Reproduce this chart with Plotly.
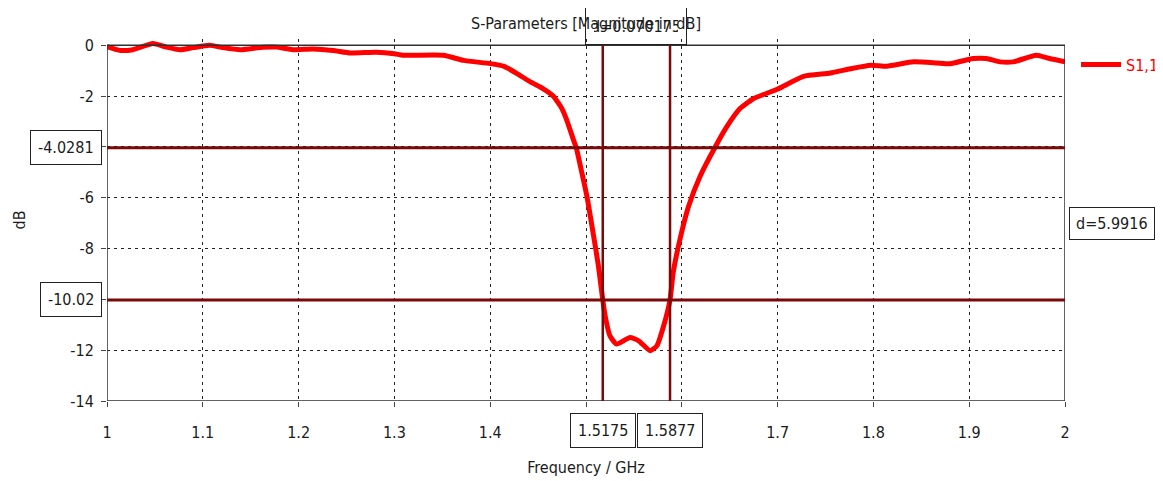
import plotly.graph_objects as go

# ---- data ----
freq_ghz = [1.000, 1.014, 1.027, 1.048, 1.062, 1.076, 1.090, 1.107, 1.121, 1.139,
            1.163, 1.177, 1.194, 1.215, 1.236, 1.254, 1.281, 1.300, 1.309, 1.351,
            1.372, 1.400, 1.414, 1.428, 1.442, 1.455, 1.466, 1.475, 1.480, 1.487,
            1.490, 1.495, 1.501, 1.508, 1.513, 1.5175, 1.520, 1.525, 1.532, 1.546,
            1.555, 1.567, 1.574, 1.581, 1.5877, 1.591, 1.598, 1.607, 1.619, 1.635,
            1.647, 1.661, 1.675, 1.699, 1.727, 1.755, 1.776, 1.797, 1.814, 1.842,
            1.866, 1.880, 1.904, 1.918, 1.932, 1.946, 1.970, 1.984, 2.000]
s11_db = [-0.05, -0.20, -0.17, 0.07, -0.07, -0.17, -0.09, 0.00, -0.09, -0.17,
          -0.07, -0.07, -0.17, -0.14, -0.20, -0.30, -0.27, -0.33, -0.39, -0.39,
          -0.59, -0.72, -0.82, -1.11, -1.44, -1.70, -2.00, -2.50, -2.95, -3.73,
          -4.05, -4.90, -5.95, -7.52, -8.69, -10.02, -10.65, -11.44, -11.76, -11.50,
          -11.63, -12.02, -11.83, -11.05, -10.02, -8.95, -7.65, -6.34, -5.16, -3.99,
          -3.20, -2.48, -2.09, -1.74, -1.22, -1.09, -0.92, -0.78, -0.82, -0.65,
          -0.69, -0.72, -0.52, -0.52, -0.65, -0.65, -0.39, -0.52, -0.65]

x_tickvals = [1, 1.1, 1.2, 1.3, 1.4, 1.5, 1.6, 1.7, 1.8, 1.9, 2]
x_ticktext = ["1", "1.1", "1.2", "1.3", "1.4", "", "", "1.7", "1.8", "1.9", "2"]
y_tickvals = [0, -2, -4, -6, -8, -10, -12, -14]
y_ticktext = ["0", "-2", "", "-6", "-8", "", "-12", "-14"]

marker_x = [1.5175, 1.5877]
marker_y = [-4.0281, -10.02]
delta_x_label = "d=0.070175"
delta_y_label = "d=5.9916"

FONT = "DejaVu Sans Condensed, Liberation Sans Narrow, Liberation Sans, sans-serif"
MARK = "#7a0a0a"
TXT = "#1b1b1b"

W, H = 1155, 473  # page body adds an 8px margin

fig = go.Figure()
fig.add_trace(go.Scatter(
    x=freq_ghz, y=s11_db, mode="lines", name="S1,1",
    line=dict(color="#ff0000", width=5, shape="spline", smoothing=0.5),
))

shapes = []
# frame
shapes.append(dict(type="rect", xref="x", yref="y", x0=1, x1=2, y0=-14, y1=0,
                   line=dict(color="#303030", width=1.5), layer="above"))
for mx in marker_x:
    shapes.append(dict(type="line", xref="x", yref="y", x0=mx, x1=mx, y0=-14, y1=0,
                       line=dict(color=MARK, width=2.5), layer="above"))
for my in marker_y:
    shapes.append(dict(type="line", xref="x", yref="y", x0=1, x1=2, y0=my, y1=my,
                       line=dict(color=MARK, width=3), layer="above"))

annots = []
for my in marker_y:
    annots.append(dict(x=0, xref="paper", y=my, yref="y", xanchor="right", yanchor="middle",
                       xshift=-5, text=f"{my:g}", showarrow=False,
                       font=dict(family=FONT, size=16, color=TXT),
                       bordercolor="#222", borderwidth=1, borderpad=7, bgcolor="white"))
for mx in marker_x:
    annots.append(dict(x=mx, xref="x", y=0, yref="paper", xanchor="center", yanchor="top",
                       yshift=-12, text=f"{mx:g}", showarrow=False,
                       font=dict(family=FONT, size=16, color=TXT),
                       bordercolor="#222", borderwidth=1, borderpad=7, bgcolor="white"))
annots.append(dict(x=1, xref="paper", y=sum(marker_y) / 2, yref="y", xanchor="left",
                   yanchor="middle", xshift=4, text=delta_y_label, showarrow=False,
                   font=dict(family=FONT, size=16, color=TXT),
                   bordercolor="#222", borderwidth=1, borderpad=6, bgcolor="white"))
annots.append(dict(x=sum(marker_x) / 2, xref="x", y=0, yref="y", xanchor="center",
                   yanchor="bottom", text=delta_x_label, showarrow=False,
                   width=84, height=20, valign="middle",
                   font=dict(family=FONT, size=16, color=TXT),
                   bordercolor="#222", borderwidth=1, borderpad=8, bgcolor="rgba(0,0,0,0)"))

fig.update_layout(
    width=W, height=H,
    margin=dict(l=99, r=98, t=31, b=80, autoexpand=False),
    paper_bgcolor="white", plot_bgcolor="white",
    font=dict(family=FONT, size=16, color=TXT),
    title=dict(text="S-Parameters [Magnitude in dB]", x=0.5, xref="paper", xanchor="center",
               y=1 - 15 / H, yref="container", yanchor="middle",
               font=dict(family=FONT, size=16, color=TXT)),
    showlegend=True,
    legend=dict(x=1.0115, xanchor="left", y=0.929, yanchor="middle",
                font=dict(family=FONT, size=16, color="#ff0000"),
                bgcolor="rgba(0,0,0,0)", itemwidth=40),
    shapes=shapes, annotations=annots,
    xaxis=dict(range=[1, 2], tickvals=x_tickvals, ticktext=x_ticktext,
               showgrid=True, gridcolor="#222", griddash="3px,4px", gridwidth=1,
               ticks="outside", ticklen=5, tickcolor="#444", ticklabelstandoff=12,
               showline=False, zeroline=False, automargin=False,
               title=dict(text="Frequency / GHz", standoff=20,
                          font=dict(family=FONT, size=16, color=TXT))),
    yaxis=dict(range=[-14, 0.25], tickvals=y_tickvals, ticktext=y_ticktext,
               showgrid=True, gridcolor="#222", griddash="3px,4px", gridwidth=1,
               ticks="outside", ticklen=5, tickcolor="#444", ticklabelstandoff=4,
               showline=False, zeroline=False, automargin=False,
               title=dict(text="dB", standoff=40,
                          font=dict(family=FONT, size=16, color=TXT))),
)

fig.write_html("out.html")
